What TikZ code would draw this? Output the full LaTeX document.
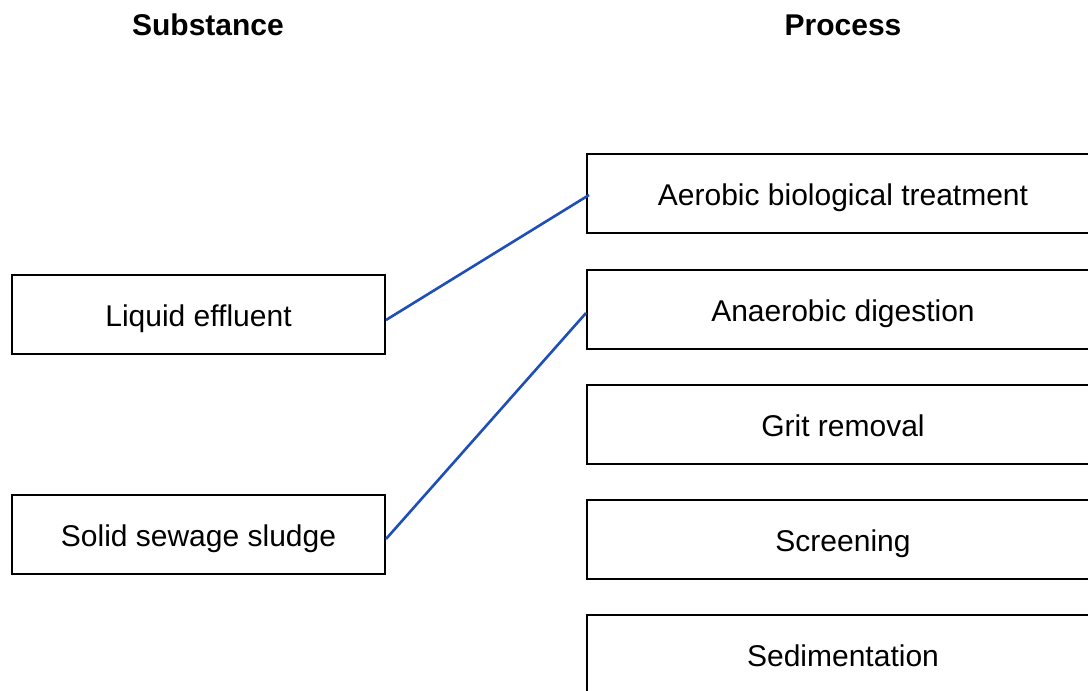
\documentclass[tikz,border=0pt]{standalone}
\usepackage{fontspec}
\setmainfont{Liberation Sans}
\usetikzlibrary{calc}
\definecolor{linkblue}{RGB}{30,78,186}
\begin{document}
\begin{tikzpicture}[x=1pt,y=-1pt,
  every node/.style={font=\fontsize{30}{36}\selectfont},
  head/.style={font=\fontsize{30}{36}\selectfont\bfseries, anchor=center},
  leftbox/.style={draw=black, line width=2pt, minimum width=373pt, minimum height=79pt, inner sep=0pt, text height=30pt, text depth=6pt},
  rightbox/.style={draw=black, line width=2pt, minimum width=512pt, minimum height=79pt, inner sep=0pt, text height=30pt, text depth=6pt},
  link/.style={draw=linkblue, line width=2.6pt}]
\useasboundingbox (0,0) rectangle (1088,691);
\clip (0,0) rectangle (1088,691);
\fill[white] (0,0) rectangle (1088,691);
\node[head] (hs) at (208,25) {Substance};
\node[head] (hp) at (843,25) {Process};
\node[leftbox] (liq) at (198.5,314.5) {Liquid effluent};
\node[leftbox] (sol) at (198.5,534) {Solid sewage sludge};
\node[rightbox] (aer) at (843,193.5) {Aerobic biological treatment};
\node[rightbox] (ana) at (843,309.5) {Anaerobic digestion};
\node[rightbox] (gri) at (843,424.5) {Grit removal};
\node[rightbox] (scr) at (843,539.5) {Screening};
\node[rightbox] (sed) at (843,654.5) {Sedimentation};
\draw[link] ($(liq.east)+(0,5.5)$) -- ($(aer.west)+(3,1.5)$);
\draw[link] ($(sol.east)+(0,5)$) -- ($(ana.west)+(0,3.5)$);
\end{tikzpicture}
\end{document}
